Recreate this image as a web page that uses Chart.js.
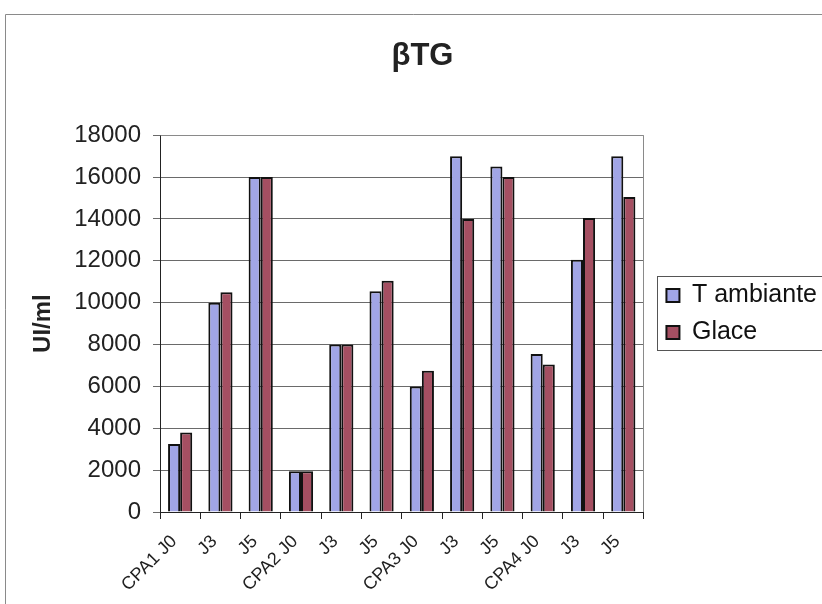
<!DOCTYPE html>
<html lang="fr">

<head>
  <meta charset="UTF-8" />
  <title>βTG</title>
  <script src="https://cdn.jsdelivr.net/npm/chart.js"></script>
  <style>
    html,
    body {
      margin: 0;
      padding: 0;
      background: #fff;
    }

    #wrap {
      width: 822px;
      height: 604px;
    }
  </style>
</head>

<body>
  <div id="wrap">
    <canvas id="btgChart"></canvas>
  </div>

  <script>
    // data
    const categories = ['CPA1 J0', 'J3', 'J5', 'CPA2 J0', 'J3', 'J5', 'CPA3 J0', 'J3', 'J5', 'CPA4 J0', 'J3', 'J5'];
    const tAmbiante = [3250, 10000, 16000, 1950, 8000, 10550, 6000, 17000, 16500, 7550, 12050, 17000];
    const glace = [3800, 10500, 16000, 1950, 8000, 11050, 6750, 14000, 16000, 7050, 14050, 15050];
    const yTicks = [0, 2000, 4000, 6000, 8000, 10000, 12000, 14000, 16000, 18000];

    const FONT = "'Liberation Sans', Arial, sans-serif";

    // outer frame of the scanned page + plot border + legend box
    const framePlugin = {
      id: 'frame',
      afterLayout(chart) {
        // nudge the legend a bit right / down like in the scan
        const lg = chart.legend;
        lg.left += 11; lg.right += 11;
        lg.top += 12; lg.bottom += 12;
      },
      beforeDraw(chart) {
        const c = chart.ctx;
        c.save();
        c.fillStyle = '#fff';
        c.fillRect(0, 0, chart.width, chart.height);
        c.strokeStyle = '#8a8a8a';
        c.lineWidth = 1;
        c.beginPath();
        c.moveTo(5.5, chart.height);
        c.lineTo(5.5, 14.5);
        c.lineTo(chart.width, 14.5);
        c.stroke();
        c.restore();
      },
      afterDraw(chart) {
        const c = chart.ctx;
        const a = chart.chartArea;
        c.save();
        c.strokeStyle = '#8a8a8a';
        c.lineWidth = 1;
        c.beginPath();
        c.moveTo(Math.round(a.left) + 0.5, Math.round(a.top) + 0.5);
        c.lineTo(Math.round(a.right) + 0.5, Math.round(a.top) + 0.5);
        c.lineTo(Math.round(a.right) + 0.5, Math.round(a.bottom));
        c.stroke();

        const hb = chart.legend.legendHitBoxes;
        if (hb && hb.length) {
          const x0 = hb[0].left - 9;
          const first = hb[0];
          const last = hb[hb.length - 1];
          const y0 = first.top + first.height / 2 - 20;
          const y1 = last.top + last.height / 2 + 17;
          c.strokeStyle = '#555';
          c.strokeRect(Math.round(x0) + 0.5, Math.round(y0) + 0.5, chart.width, Math.round(y1 - y0));
        }
        c.restore();
      }
    };

    const ctx = document.getElementById('btgChart').getContext('2d');

    const btgChart = new Chart(ctx, {
      type: 'bar',
      data: {
        labels: categories,
        datasets: [
          {
            label: 'T ambiante',
            data: tAmbiante,
            backgroundColor: '#a1a5e6',
            borderColor: '#111',
            borderWidth: 2,
            categoryPercentage: 0.6,
            barPercentage: 1.0
          },
          {
            label: 'Glace',
            data: glace,
            backgroundColor: '#a54f62',
            borderColor: '#111',
            borderWidth: 2,
            categoryPercentage: 0.6,
            barPercentage: 1.0
          }
        ]
      },
      options: {
        responsive: true,
        maintainAspectRatio: false,
        animation: false,
        layout: {
          padding: { left: 29, right: 6, top: 0, bottom: 0 }
        },
        scales: {
          x: {
            offset: true,
            grid: {
              offset: true,
              drawOnChartArea: false,
              drawTicks: true,
              tickLength: 7,
              color: '#222'
            },
            border: { color: '#222', width: 1 },
            ticks: {
              color: '#222',
              font: { family: FONT, size: 18 },
              maxRotation: 45,
              minRotation: 45,
              autoSkip: false,
              padding: 12,
              labelOffset: -6
            },
            afterFit(scale) {
              scale.height = 604 - 512;
            }
          },
          y: {
            min: 0,
            max: 18000,
            afterBuildTicks(scale) {
              scale.ticks = yTicks.map(v => ({ value: v }));
            },
            grid: {
              color: '#6a6a6a',
              drawTicks: true,
              tickLength: 7
            },
            border: { color: '#222', width: 1 },
            ticks: {
              color: '#222',
              font: { family: FONT, size: 24 },
              padding: 12,
              callback: v => String(v)
            },
            title: {
              display: true,
              text: 'UI/ml',
              color: '#222',
              font: { family: FONT, size: 24, weight: 'bold' },
              padding: { top: 0, bottom: 0 }
            },
            afterFit(scale) {
              scale.width = 160 - 29;
            }
          }
        },
        plugins: {
          title: {
            display: true,
            text: 'βTG',
            color: '#222',
            font: { family: FONT, size: 31, weight: 'bold' },
            padding: { top: 38, bottom: 60 }
          },
          legend: {
            position: 'right',
            labels: {
              color: '#111',
              font: { family: FONT, size: 25 },
              boxWidth: 13,
              boxHeight: 13,
              padding: 12,
              useBorderRadius: false
            }
          },
          tooltip: { enabled: false }
        }
      },
      plugins: [framePlugin]
    });
  </script>
</body>

</html>
